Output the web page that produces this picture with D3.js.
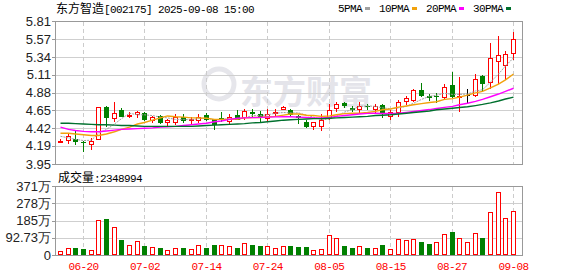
<!DOCTYPE html>
<html>
<head>
<meta charset="utf-8">
<script src="https://cdn.jsdelivr.net/npm/d3@7"></script>
<style>
body { margin: 0; background: #fff; }
</style>
</head>
<body>
<svg id="chart" width="578" height="276"></svg>
<script>
// K-line view: price candles + moving averages on top, volume below
var dates = ['06-17','06-18','06-19','06-20','06-23','06-24','06-25','06-26','06-27','06-30',
	'07-01','07-02','07-03','07-04','07-07','07-08','07-09','07-10','07-11','07-14',
	'07-15','07-16','07-17','07-18','07-21','07-22','07-23','07-24','07-25','07-28',
	'07-29','07-30','07-31','08-01','08-04','08-05','08-06','08-07','08-08','08-11',
	'08-12','08-13','08-14','08-15','08-18','08-19','08-20','08-21','08-22','08-25',
	'08-26','08-27','08-28','08-29','09-01','09-02','09-03','09-04','09-05','09-08'];
var tickDates = ['06-20','07-02','07-14','07-24','08-05','08-15','08-27','09-08'];

var open = [4.24,4.26,4.28,4.24,4.21,4.28,4.69,4.55,4.65,4.58,
	4.60,4.61,4.52,4.57,4.49,4.50,4.565,4.52,4.52,4.59,
	4.535,4.55,4.51,4.59,4.56,4.63,4.60,4.545,4.61,4.67,
	4.65,4.575,4.50,4.445,4.445,4.545,4.675,4.74,4.68,4.665,
	4.71,4.67,4.72,4.57,4.63,4.765,4.787,4.91,4.84,4.84,
	4.82,4.98,4.835,4.85,4.85,5.09,5.013,5.294,5.24,5.40];
var high = [4.27,4.34,4.38,4.25,4.29,4.69,4.71,4.75,4.68,4.62,
	4.64,4.63,4.58,4.59,4.53,4.60,4.60,4.56,4.60,4.61,
	4.54,4.63,4.60,4.65,4.66,4.67,4.64,4.66,4.66,4.71,
	4.67,4.59,4.52,4.50,4.60,4.73,4.75,4.76,4.71,4.75,
	4.73,4.73,4.73,4.65,4.78,4.83,4.93,5.01,4.86,4.88,
	4.99,5.15,5.08,4.93,5.12,5.11,5.52,5.62,5.42,5.67];
var low = [4.23,4.22,4.21,4.12,4.14,4.27,4.45,4.51,4.57,4.56,
	4.56,4.52,4.50,4.48,4.44,4.47,4.50,4.48,4.50,4.52,
	4.40,4.51,4.48,4.53,4.53,4.58,4.49,4.52,4.57,4.66,
	4.58,4.48,4.43,4.41,4.39,4.53,4.64,4.69,4.64,4.63,
	4.66,4.63,4.56,4.54,4.57,4.73,4.77,4.83,4.78,4.76,
	4.79,4.82,4.64,4.75,4.84,4.905,4.935,5.01,5.05,5.32];
var close = [4.25,4.31,4.25,4.23,4.25,4.69,4.56,4.61,4.58,4.59,
	4.62,4.54,4.56,4.49,4.52,4.56,4.52,4.535,4.565,4.54,
	4.47,4.545,4.565,4.54,4.635,4.61,4.56,4.60,4.625,4.69,
	4.605,4.56,4.445,4.49,4.52,4.655,4.73,4.72,4.67,4.71,
	4.70,4.71,4.615,4.62,4.755,4.81,4.91,4.85,4.82,4.83,
	4.95,4.83,4.84,4.85,5.05,5.01,5.325,5.37,5.38,5.575];

// volume in 万 (10k shares)
var volume = [21.5,36,37.6,32,27,188,193.6,150.5,80.6,53.8,
	75,48.4,41,37.6,27,36,37.6,32,52,37.6,
	53.8,52,48.4,37.6,62.8,53.8,48.4,48.4,36,48.4,
	48.4,43,43,25,32,107.5,89.6,48.4,37.6,46.5,
	37.6,36,53.8,32,84,80.6,84,70,59,70,
	111,123.7,89.6,70,116.6,91.4,229.6,340,197,234.9];
var lastVolume = 2348994;

var ma5 = [4.31,4.29,4.27,4.255,4.26,4.35,4.40,4.47,4.54,4.61,
	4.59,4.59,4.58,4.56,4.55,4.53,4.53,4.525,4.54,4.545,
	4.525,4.53,4.54,4.53,4.55,4.58,4.58,4.59,4.61,4.62,
	4.615,4.615,4.585,4.56,4.525,4.535,4.57,4.625,4.66,4.70,
	4.705,4.70,4.68,4.67,4.68,4.70,4.74,4.79,4.83,4.845,
	4.87,4.855,4.855,4.86,4.90,4.915,5.015,5.12,5.225,5.33];
var ma10 = [4.35,4.35,4.34,4.33,4.32,4.32,4.34,4.37,4.40,4.43,
	4.47,4.49,4.52,4.55,4.575,4.565,4.56,4.55,4.55,4.545,
	4.53,4.53,4.53,4.535,4.55,4.555,4.555,4.565,4.57,4.585,
	4.60,4.60,4.585,4.58,4.57,4.575,4.59,4.605,4.61,4.61,
	4.62,4.635,4.655,4.665,4.69,4.705,4.72,4.735,4.75,4.76,
	4.79,4.80,4.82,4.845,4.875,4.895,4.94,4.99,5.045,5.12];
var ma20 = [4.43,4.40,4.385,4.375,4.37,4.37,4.38,4.39,4.40,4.405,
	4.41,4.415,4.42,4.43,4.435,4.44,4.45,4.46,4.47,4.48,
	4.50,4.51,4.53,4.545,4.55,4.553,4.556,4.56,4.563,4.566,
	4.565,4.56,4.555,4.548,4.548,4.556,4.57,4.58,4.59,4.60,
	4.608,4.61,4.606,4.606,4.612,4.622,4.632,4.645,4.658,4.672,
	4.686,4.70,4.72,4.74,4.765,4.79,4.825,4.86,4.895,4.935];
var ma30 = [4.48,4.48,4.475,4.47,4.465,4.46,4.46,4.455,4.45,4.45,
	4.445,4.44,4.44,4.44,4.44,4.44,4.44,4.44,4.445,4.45,
	4.455,4.46,4.465,4.47,4.475,4.485,4.49,4.50,4.51,4.52,
	4.525,4.53,4.535,4.54,4.54,4.545,4.55,4.555,4.56,4.565,
	4.57,4.58,4.585,4.59,4.60,4.61,4.62,4.63,4.64,4.655,
	4.665,4.675,4.685,4.695,4.71,4.725,4.745,4.77,4.795,4.82];

var priceTicks = [3.95,4.19,4.42,4.65,4.88,5.11,5.34,5.57,5.81];
var volumeTicks = [0,92.73,185,278,371];
var volumeTickLabels = ['0','92.73万','185万','278万','371万'];

var maNames = ['5PMA','10PMA','20PMA','30PMA'];
var maColors = ['#a0a0a0','#f2a20c','#ff00ff','#00702e'];
var maSeries = [ma5, ma10, ma20, ma30];

var RED = '#ff0000', GREEN = '#008000';
var MONO = '"Liberation Mono", monospace';
var CJK = '"Noto Sans CJK SC", sans-serif';

var svg = d3.select('#chart');

var left = 55.5, right = 522.5;
var priceTop = 21, priceBottom = 164;
var volTop = 186, volBottom = 255;

var x = d3.scalePoint().domain(dates).range([60, 513]);
var yP = d3.scaleLinear().domain([3.95, 5.81]).range([priceBottom, priceTop]);
var yV = d3.scaleLinear().domain([0, 371]).range([volBottom, volTop]);

function cx(i) { return Math.round(x(dates[i])); }

// watermark
svg.append('circle')
	.attr('cx', 219).attr('cy', 84).attr('r', 15)
	.style('fill', 'none')
	.style('stroke', '#e6e6eb').style('stroke-width', 5);
svg.append('text')
	.attr('x', 240).attr('y', 104)
	.text('东方财富')
	.style('font-family', CJK)
	.style('font-size', '33px')
	.style('font-weight', 'bold')
	.style('fill', '#e4e4ea');

// grid
var grid = svg.append('g').attr('shape-rendering', 'crispEdges');
grid.selectAll('.hp')
	.data(priceTicks.slice(1, -1))
	.enter().append('line')
	.attr('x1', left).attr('x2', right)
	.attr('y1', function (d) { return Math.round(yP(d)) + 0.5; })
	.attr('y2', function (d) { return Math.round(yP(d)) + 0.5; })
	.style('stroke', '#cfcfcf');
grid.selectAll('.hv')
	.data(volumeTicks.slice(1, -1))
	.enter().append('line')
	.attr('x1', left).attr('x2', right)
	.attr('y1', function (d) { return Math.round(yV(d)) + 0.5; })
	.attr('y2', function (d) { return Math.round(yV(d)) + 0.5; })
	.style('stroke', '#cfcfcf');

[[priceTop, priceBottom], [volTop, volBottom]].forEach(function (p) {
	grid.selectAll(null)
		.data(tickDates)
		.enter().append('line')
		.attr('x1', function (d) { return Math.round(x(d)) + 0.5; })
		.attr('x2', function (d) { return Math.round(x(d)) + 0.5; })
		.attr('y1', p[0] + 1).attr('y2', p[1])
		.style('stroke', '#cccccc')
		.style('stroke-dasharray', '4,3');

	// panel frame
	grid.append('rect')
		.attr('x', left).attr('y', p[0] + 0.5)
		.attr('width', right - left).attr('height', p[1] - p[0])
		.style('fill', 'none')
		.style('stroke', '#999');
});

// axes
var axP = svg.append('g')
	.attr('transform', 'translate(' + (left - 0.5) + ',0)')
	.call(d3.axisLeft(yP).tickValues(priceTicks).tickSize(3).tickPadding(1).tickFormat(d3.format('.2f')));
var axV = svg.append('g')
	.attr('transform', 'translate(' + (left - 0.5) + ',0)')
	.call(d3.axisLeft(yV).tickValues(volumeTicks).tickSize(3).tickPadding(1)
		.tickFormat(function (d, i) { return volumeTickLabels[i]; }));
[axP, axV].forEach(function (ax) {
	ax.select('.domain').remove();
	ax.attr('font-family', '"Liberation Sans", Arial, sans-serif').attr('font-size', 13);
	ax.selectAll('line').style('stroke', '#999').attr('shape-rendering', 'crispEdges');
	ax.selectAll('text').style('fill', '#222');
});

var axX = svg.append('g')
	.attr('transform', 'translate(0,' + volBottom + ')')
	.call(d3.axisBottom(x).tickValues(tickDates).tickSize(0).tickPadding(7));
axX.select('.domain').remove();
axX.attr('font-family', MONO).attr('font-size', 11);
axX.selectAll('text').style('fill', RED).style('letter-spacing', '-0.6px');

// candles
var candles = svg.append('g').attr('shape-rendering', 'crispEdges')
	.selectAll('g')
	.data(dates)
	.enter().append('g');

function candleColor(i) {
	if (close[i] > open[i]) return RED;
	if (close[i] < open[i]) return GREEN;
	return '#000';
}

candles.append('line')
	.attr('x1', function (d, i) { return cx(i) + 0.5; })
	.attr('x2', function (d, i) { return cx(i) + 0.5; })
	.attr('y1', function (d, i) { return Math.round(yP(high[i])); })
	.attr('y2', function (d, i) { return Math.round(yP(low[i])) + 1; })
	.style('stroke', function (d, i) { return candleColor(i); });

candles.append('rect')
	.each(function (d, i) {
		var top = Math.round(yP(Math.max(open[i], close[i])));
		var bot = Math.round(yP(Math.min(open[i], close[i])));
		var el = d3.select(this);
		if (close[i] > open[i]) {
			el.attr('x', cx(i) - 1.5).attr('width', 4)
				.attr('y', top + 0.5).attr('height', Math.max(1, bot - top))
				.style('fill', '#fff').style('stroke', RED);
		} else {
			el.attr('x', cx(i) - 2).attr('width', 5)
				.attr('y', top).attr('height', Math.max(1, bot - top + 1))
				.style('fill', candleColor(i));
		}
	});

// volume bars, coloured by change against previous close
svg.append('g').attr('shape-rendering', 'crispEdges')
	.selectAll('rect')
	.data(volume)
	.enter().append('rect')
	.each(function (v, i) {
		var up = i === 0 ? close[i] >= open[i] : close[i] >= close[i - 1];
		var top = Math.round(yV(v));
		var el = d3.select(this);
		if (up) {
			el.attr('x', cx(i) - 1.5).attr('width', 4)
				.attr('y', top + 0.5).attr('height', volBottom - top - 1)
				.style('fill', '#fff').style('stroke', RED);
		} else {
			el.attr('x', cx(i) - 2).attr('width', 5)
				.attr('y', top).attr('height', volBottom - top)
				.style('fill', GREEN);
		}
	});

// moving averages
var line = d3.line()
	.x(function (d, i) { return cx(i) + 0.5; })
	.y(function (d) { return yP(d); });

svg.append('g').selectAll('path')
	.data(maSeries)
	.enter().append('path')
	.attr('d', line)
	.style('fill', 'none')
	.style('stroke', function (d, i) { return maColors[i]; })
	.style('stroke-width', function (d, i) { return i === 0 ? 1 : 1.4; })
	.style('stroke-dasharray', function (d, i) { return i === 0 ? '2,1' : null; });

// title
var title = svg.append('text').attr('x', 56).attr('y', 13).style('fill', '#000');
title.append('tspan').text('东方智造').style('font-family', CJK).style('font-size', '12px');
title.append('tspan').text('[002175] 2025-09-08 15:00')
	.style('font-family', MONO).style('font-size', '11px').style('letter-spacing', '-0.6px');

// legend
var lx = 338;
maNames.forEach(function (name, i) {
	svg.append('text')
		.attr('x', lx).attr('y', 12)
		.text(name)
		.style('font-family', MONO).style('font-size', '11px').style('letter-spacing', '-0.6px')
		.style('fill', '#000');
	lx += name.length * 6 + 3;
	svg.append('rect')
		.attr('x', lx).attr('y', 7).attr('width', 5).attr('height', 3)
		.style('fill', maColors[i]);
	lx += 5 + 9;
});

// volume header
var vt = svg.append('text').attr('x', 58).attr('y', 182).style('fill', '#000');
vt.append('tspan').text('成交量').style('font-family', CJK).style('font-size', '12px');
vt.append('tspan').text(':' + lastVolume)
	.style('font-family', MONO).style('font-size', '11px').style('letter-spacing', '-0.6px');
</script>
</body>
</html>
